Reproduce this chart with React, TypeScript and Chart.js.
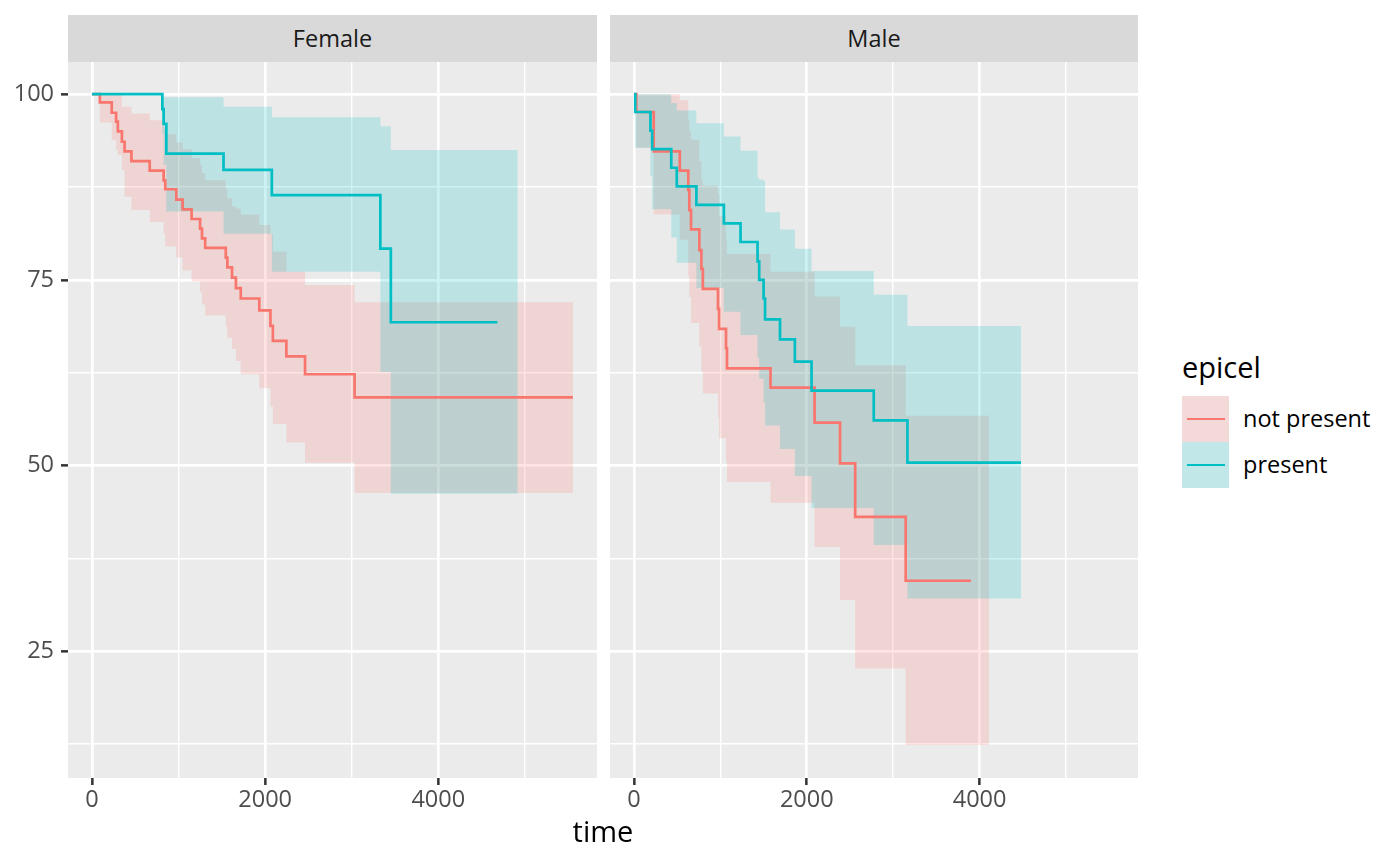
import { useEffect, useRef } from 'react'
import { Chart, registerables } from 'chart.js'

Chart.register(...registerables)

// Female, epicel = not present  (time of each drop, survival %, CI bounds after the drop)
const fNotTime = [0, 90, 227, 278, 298, 345, 376, 455, 666, 827, 846, 973, 1046, 1150, 1248, 1270, 1307, 1545, 1563, 1617, 1662, 1718, 1932, 2061, 2089, 2245, 2461, 3033]
const fNotSurv = [100, 98.9, 97.5, 96.3, 95.0, 93.6, 92.3, 91.0, 89.7, 88.4, 87.2, 85.8, 84.5, 83.2, 81.9, 80.6, 79.3, 78.0, 76.7, 75.3, 73.9, 72.5, 70.9, 68.8, 66.8, 64.7, 62.3, 59.2]
const fNotUpper = [100, 100, 100, 100, 100, 98.3, 98.3, 97.4, 96.5, 95.5, 94.6, 93.5, 92.6, 91.4, 90.5, 89.4, 88.4, 87.2, 86.0, 84.9, 84.6, 83.8, 82.4, 81.2, 78.8, 76.1, 74.3, 72.0]
const fNotLower = [100, 96.2, 93.8, 92.5, 91.8, 89.8, 86.2, 84.4, 82.8, 81.2, 79.5, 78.0, 76.3, 74.8, 73.3, 71.7, 70.2, 68.7, 67.2, 65.7, 64.1, 62.3, 60.4, 58.0, 55.6, 53.1, 50.4, 46.3]

// Female, epicel = present
const fPresTime = [0, 812, 827, 858, 1519, 2077, 3331, 3452]
const fPresSurv = [100, 98.0, 96.0, 92.0, 89.8, 86.4, 79.2, 69.3]
const fPresUpper = [100, 99.6, 99.6, 99.6, 98.3, 96.9, 95.7, 92.5]
const fPresLower = [100, 94.6, 90.5, 84.2, 81.2, 76.1, 62.6, 46.2]

// Male, epicel = not present
const mNotTime = [0, 27, 228, 530, 628, 640, 660, 756, 780, 797, 972, 985, 1065, 1076, 1580, 2090, 2385, 2560, 3145]
const mNotSurv = [100, 97.6, 92.3, 89.7, 87.1, 84.4, 81.8, 79.0, 76.5, 73.8, 71.1, 68.4, 65.8, 63.1, 60.5, 55.8, 50.3, 43.1, 34.5]
const mNotUpper = [100, 100, 100, 99.2, 96.5, 95.0, 93.9, 91.0, 88.5, 87.7, 86.5, 83.6, 80.5, 78.5, 76.1, 72.75, 68.7, 63.5, 56.7]
const mNotLower = [100, 92.8, 83.8, 80.4, 75.5, 72.7, 69.2, 66.0, 62.7, 59.7, 56.5, 53.7, 50.6, 47.8, 45.0, 39.05, 31.9, 22.7, 12.4]

// Male, epicel = present
const mPresTime = [0, 14, 190, 210, 431, 495, 722, 1040, 1233, 1430, 1449, 1500, 1517, 1690, 1862, 2055, 2775, 3165]
const mPresSurv = [100, 97.6, 95.1, 92.6, 90.1, 87.6, 85.1, 82.6, 80.1, 77.5, 75.0, 72.5, 69.7, 67.0, 64.0, 60.1, 56.1, 50.4]
const mPresUpper = [100, 100, 100, 100, 98.8, 97.8, 96.1, 94.3, 92.4, 88.8, 88.5, 88.3, 84.1, 81.8, 79.2, 76.2, 73.0, 68.8]
const mPresLower = [100, 92.8, 89.0, 84.5, 80.7, 77.3, 73.9, 70.7, 67.6, 64.5, 61.7, 58.5, 55.4, 52.25, 48.6, 44.3, 39.3, 32.1]

// last time of each curve / ribbon: [not present, present]
const fLineEnd = [5556, 4683]
const fRibbonEnd = [5556, 4918]
const mLineEnd = [3900, 4480]
const mRibbonEnd = [4110, 4480]

const groupLabels = ['not present', 'present']
const xTicks = [0, 1000, 2000, 3000, 4000, 5000]
const xLabelled = [0, 2000, 4000]
const yTicks = [12.5, 25, 37.5, 50, 62.5, 75, 87.5, 100]
const yLabelled = [25, 50, 75, 100]

const RED = '#F8766D'
const CYAN = '#00BFC4'
const RED_FILL = 'rgba(248,118,109,0.2)'
const CYAN_FILL = 'rgba(0,191,196,0.2)'
const FONT = "'Open Sans', 'Noto Sans', sans-serif"

const steps = (time: number[], vals: number[], end: number) => {
  const pts = time.map((t, i) => ({ x: t, y: vals[i] }))
  pts.push({ x: end, y: vals[vals.length - 1] })
  return pts
}

interface Group {
  time: number[]; surv: number[]; upper: number[]; lower: number[]
  lineEnd: number; ribbonEnd: number; color: string; fill: string
}

const panelBg = {
  id: 'panelBg',
  beforeDraw(chart: Chart) {
    const { ctx, chartArea: a } = chart
    ctx.save()
    ctx.fillStyle = '#EBEBEB'
    ctx.fillRect(a.left, a.top, a.right - a.left, a.bottom - a.top)
    ctx.restore()
  },
}

function Panel({ groups, yAxis, left, width }: { groups: Group[]; yAxis: boolean; left: number; width: number }) {
  const canvasRef = useRef<HTMLCanvasElement>(null)

  useEffect(() => {
    if (!canvasRef.current) return
    const datasets: any[] = []
    groups.forEach((g, gi) => {
      datasets.push({
        data: steps(g.time, g.upper, g.ribbonEnd), fill: '+1', backgroundColor: g.fill,
        borderColor: 'transparent', borderWidth: 0, pointRadius: 0, stepped: 'before', order: 3 - gi,
      })
      datasets.push({
        data: steps(g.time, g.lower, g.ribbonEnd), fill: false,
        borderColor: 'transparent', borderWidth: 0, pointRadius: 0, stepped: 'before', order: 3 - gi,
      })
    })
    groups.forEach((g, gi) => {
      datasets.push({
        data: steps(g.time, g.surv, g.lineEnd), fill: false, borderColor: g.color, borderWidth: 2.7,
        pointRadius: 0, stepped: 'before', order: 1 - gi, borderCapStyle: 'butt',
      })
    })

    const major = (v: number, list: number[]) => list.includes(v)

    const chart = new Chart(canvasRef.current, {
      type: 'line',
      data: { datasets },
      plugins: [panelBg],
      options: {
        responsive: true,
        maintainAspectRatio: false,
        animation: false,
        events: [],
        layout: { padding: { top: 61.5, right: yAxis ? 3 : 2, left: 0, bottom: 0 } },
        plugins: { legend: { display: false }, tooltip: { enabled: false } },
        scales: {
          x: {
            type: 'linear',
            min: -278,
            max: 5834,
            border: { display: false },
            afterBuildTicks: (s: any) => { s.ticks = xTicks.map(v => ({ value: v })) },
            afterFit: (s: any) => { s.height = 88; s.paddingLeft = 0; s.paddingRight = 0 },
            grid: {
              color: '#FFFFFF',
              lineWidth: (c: any) => (major(c.tick?.value, xLabelled) ? 2.7 : 1.4),
              tickLength: 7,
              tickWidth: 2.5,
              tickColor: (c: any) => (major(c.tick?.value, xLabelled) ? '#333333' : 'rgba(0,0,0,0)'),
            },
            ticks: {
              autoSkip: false,
              maxRotation: 0,
              padding: 1,
              color: '#4D4D4D',
              font: { family: FONT, size: 23.5 },
              callback: (v: any) => (major(Number(v), xLabelled) ? String(v) : ''),
            },
          },
          y: {
            type: 'linear',
            min: 7.95,
            max: 104.4,
            border: { display: false },
            afterBuildTicks: (s: any) => { s.ticks = yTicks.map(v => ({ value: v })) },
            afterFit: (s: any) => { s.width = yAxis ? 68 : 10; s.paddingTop = 0; s.paddingBottom = 0 },
            grid: {
              color: '#FFFFFF',
              lineWidth: (c: any) => (major(c.tick?.value, yLabelled) ? 2.7 : 1.4),
              drawTicks: yAxis,
              tickLength: 7,
              tickWidth: 2.5,
              tickColor: (c: any) => (major(c.tick?.value, yLabelled) ? '#333333' : 'rgba(0,0,0,0)'),
            },
            ticks: {
              display: yAxis,
              padding: 7,
              color: '#4D4D4D',
              font: { family: FONT, size: 23.5 },
              callback: (v: any) => (major(Number(v), yLabelled) ? String(v) : ''),
            },
          },
        },
      },
    })
    return () => { chart.destroy() }
  }, [groups, yAxis])

  return (
    <div style={{ position: 'absolute', left, top: 0, width, height: 866 }}>
      <canvas ref={canvasRef} />
    </div>
  )
}

const femaleGroups: Group[] = [
  { time: fNotTime, surv: fNotSurv, upper: fNotUpper, lower: fNotLower, lineEnd: fLineEnd[0], ribbonEnd: fRibbonEnd[0], color: RED, fill: RED_FILL },
  { time: fPresTime, surv: fPresSurv, upper: fPresUpper, lower: fPresLower, lineEnd: fLineEnd[1], ribbonEnd: fRibbonEnd[1], color: CYAN, fill: CYAN_FILL },
]
const maleGroups: Group[] = [
  { time: mNotTime, surv: mNotSurv, upper: mNotUpper, lower: mNotLower, lineEnd: mLineEnd[0], ribbonEnd: mRibbonEnd[0], color: RED, fill: RED_FILL },
  { time: mPresTime, surv: mPresSurv, upper: mPresUpper, lower: mPresLower, lineEnd: mLineEnd[1], ribbonEnd: mRibbonEnd[1], color: CYAN, fill: CYAN_FILL },
]

const stripStyle = (left: number, width: number): React.CSSProperties => ({
  position: 'absolute', left, top: 15, width, height: 46.5, background: '#D9D9D9',
  display: 'flex', alignItems: 'center', justifyContent: 'center',
  font: `23.5px ${FONT}`, color: '#1A1A1A',
})

export default function App() {
  const keyColors = [[RED, RED_FILL], [CYAN, CYAN_FILL]]
  return (
    <div style={{ position: 'absolute', left: 0, top: 0, width: 1400, height: 866, background: '#FFFFFF', overflow: 'hidden' }}>
      <Panel groups={femaleGroups} yAxis={true} left={0} width={600} />
      <Panel groups={maleGroups} yAxis={false} left={600} width={540} />
      <div style={stripStyle(68, 529)}>Female</div>
      <div style={stripStyle(610, 528)}>Male</div>
      <div style={{ position: 'absolute', left: 403, width: 400, top: 811, height: 29, lineHeight: '29px', textAlign: 'center', font: `29px ${FONT}`, color: '#000000' }}>time</div>
      <div style={{ position: 'absolute', left: 1182, top: 347, height: 29, lineHeight: '29px', font: `29px ${FONT}`, color: '#000000' }}>epicel</div>
      {groupLabels.map((lab, i) => (
        <div key={lab}>
          <div style={{ position: 'absolute', left: 1182, top: 396 + i * 46, width: 47, height: 46, background: '#F2F2F2' }}>
            <div style={{ position: 'absolute', inset: 0, background: keyColors[i][1] }} />
            <div style={{ position: 'absolute', left: 4.5, top: 21.6, width: 38, height: 2.8, background: keyColors[i][0] }} />
          </div>
          <div style={{ position: 'absolute', left: 1243, top: 402 + i * 46, height: 46, lineHeight: '46px', font: `23.5px ${FONT}`, color: '#000000', whiteSpace: 'nowrap' }}>{lab}</div>
        </div>
      ))}
    </div>
  )
}
